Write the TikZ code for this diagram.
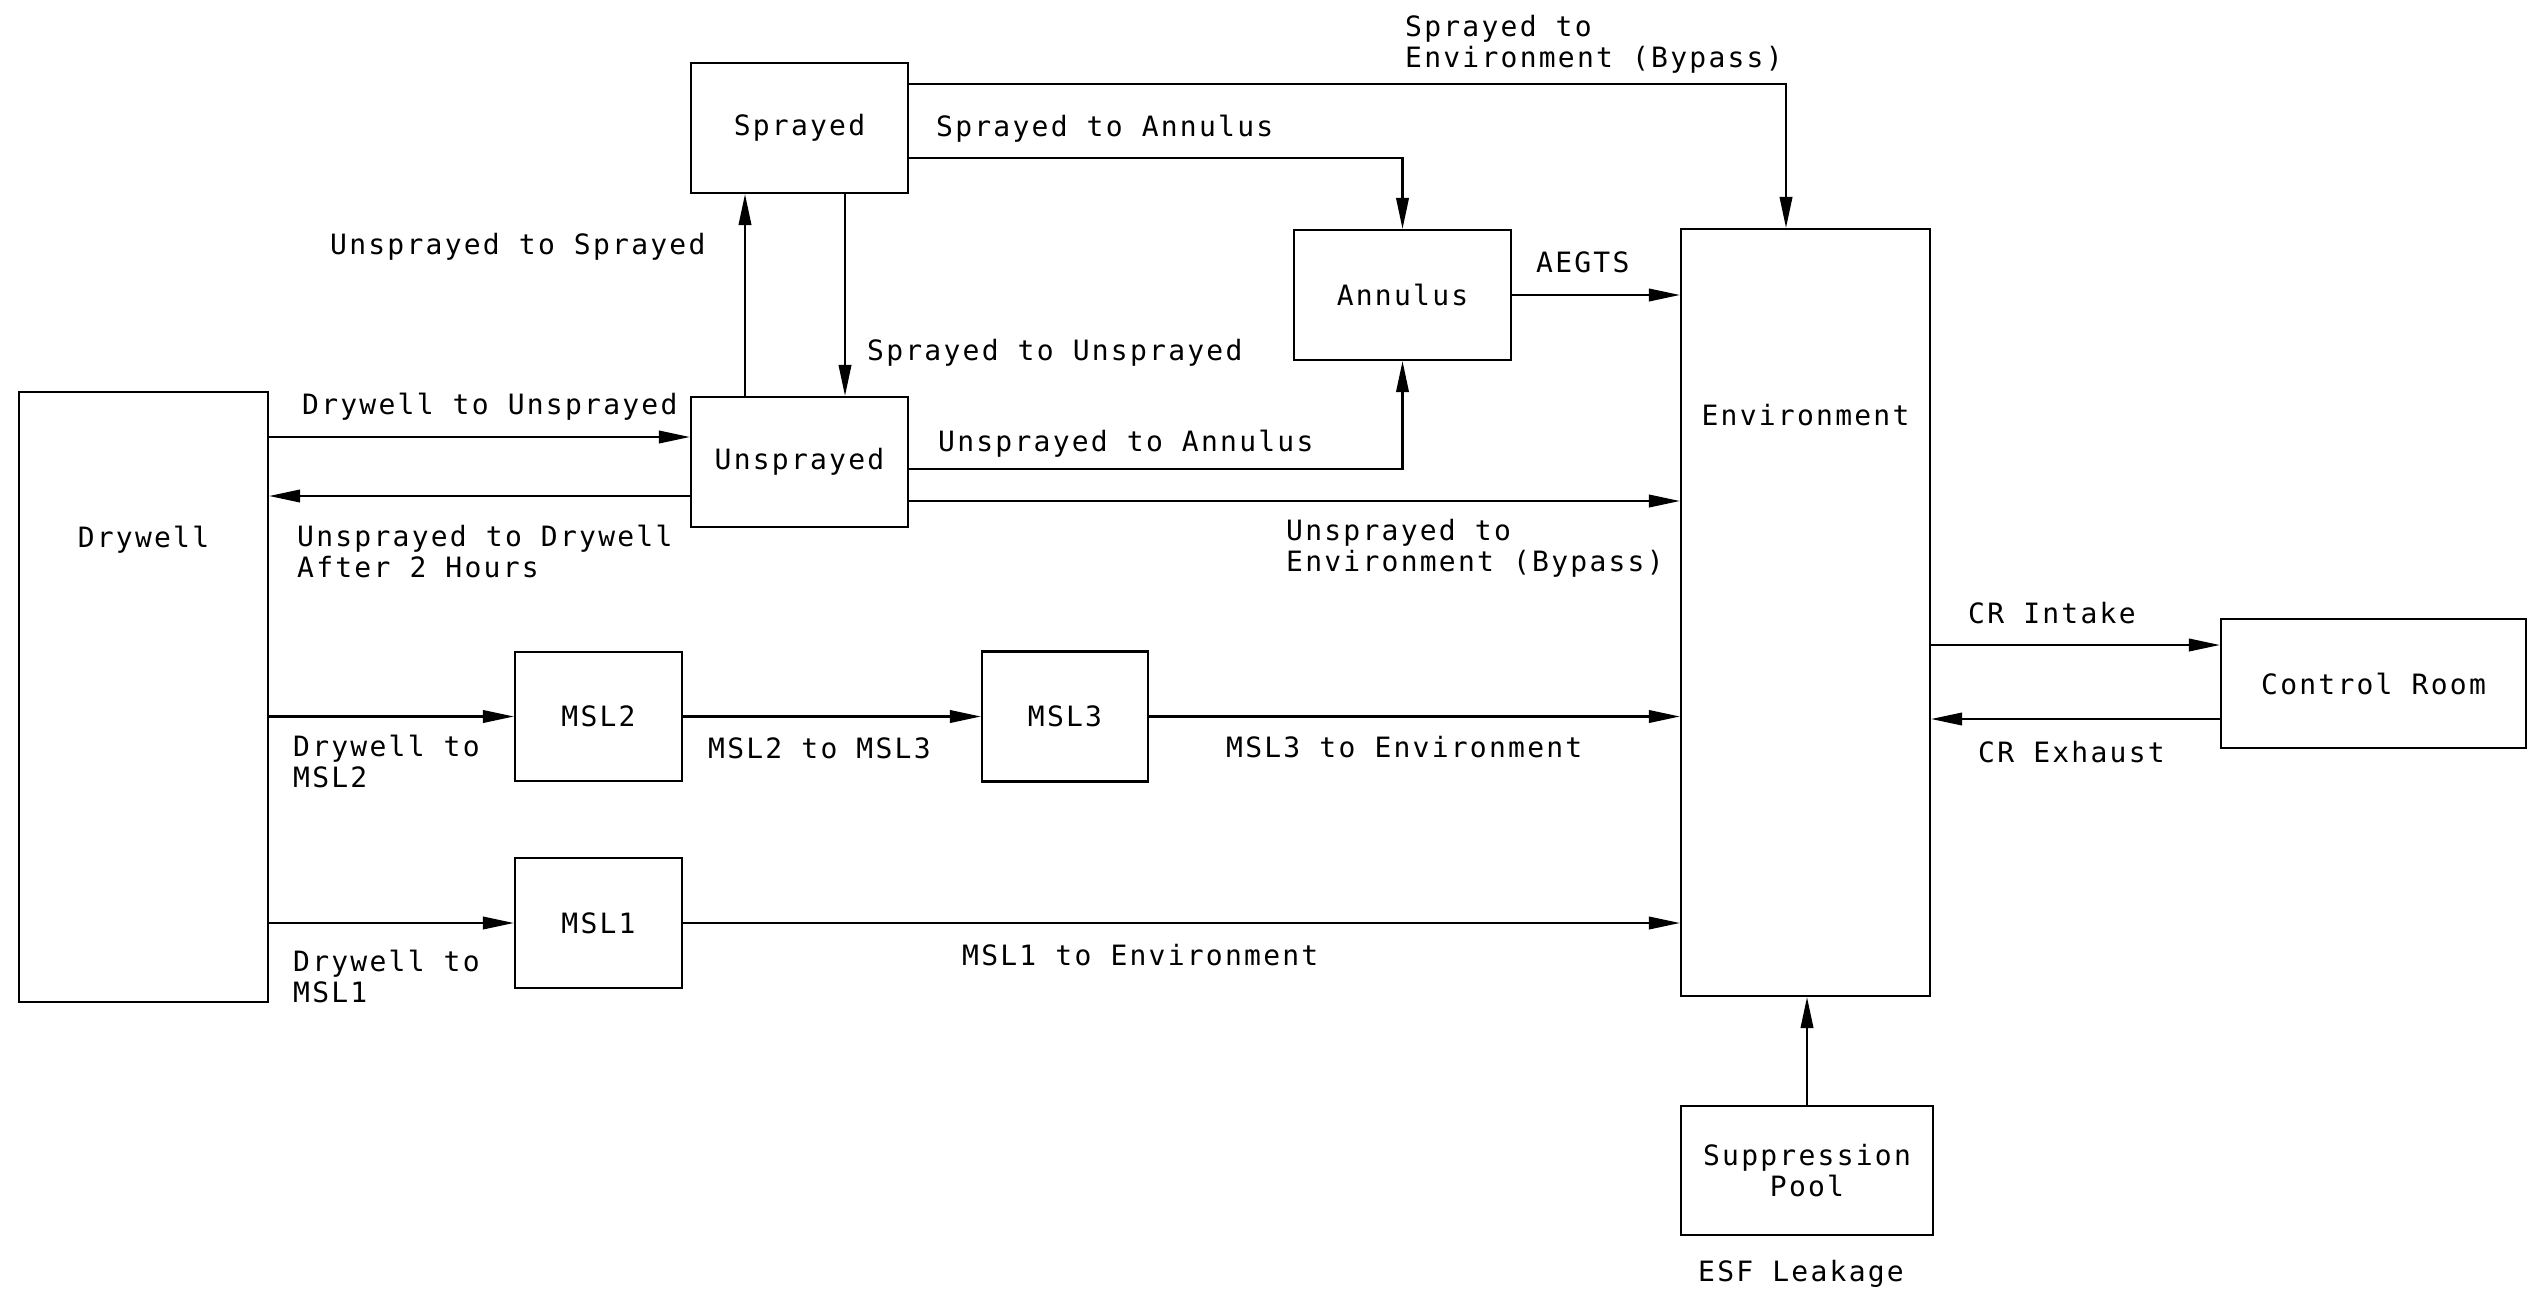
\documentclass[tikz,border=0pt]{standalone}
\usepackage{fontspec}
\newfontfamily\cadfont{DejaVu Sans Mono}[LetterSpace=8]
\usetikzlibrary{arrows.meta}
\tikzset{
  box/.style={draw, line width=2.2pt, inner sep=0pt, rectangle, font=\cadfont\fontsize{28}{31}\selectfont, align=center},
  lbl/.style={inner sep=0pt, anchor=base west, align=left, font=\cadfont\fontsize{28}{31}\selectfont},
  txt/.style={inner sep=0pt, anchor=base, font=\cadfont\fontsize{28}{31}\selectfont},
  arr/.style={line width=2.2pt, -{Triangle[length=31pt,width=12.5pt]}}
}
\begin{document}
\begin{tikzpicture}[x=1pt,y=-1pt]
\fill[white] (0,0) rectangle (2531,1290);
\useasboundingbox (0,0) rectangle (2531,1290);

% boxes
\node[box, minimum width=249pt, minimum height=610pt] (dw) at (143.5,697) {};
\node[txt] (dwT) at (143.5,547) {Drywell};
\node[box, minimum width=217pt, minimum height=130pt] (spr) at (799.5,128) {Sprayed};
\node[box, minimum width=217pt, minimum height=130pt] (unsp) at (799.5,462) {Unsprayed};
\node[box, minimum width=217pt, minimum height=130pt] (ann) at (1402.5,295) {Annulus};
\node[box, minimum width=249pt, minimum height=767pt] (env) at (1805.5,612.5) {};
\node[txt] (envT) at (1805.5,425) {Environment};
\node[box, minimum width=305pt, minimum height=129pt] (cr) at (2373.5,683.5) {Control Room};
\node[box, minimum width=252pt, minimum height=129pt] (sp) at (1807,1170.5) {Suppression\\Pool};
\node[box, minimum width=167pt, minimum height=129pt] (msl2) at (598.5,716.5) {MSL2};
\node[box, minimum width=166pt, minimum height=130pt] (msl3) at (1065,716.5) {MSL3};
\node[box, minimum width=167pt, minimum height=130pt] (msl1) at (598.5,923) {MSL1};

% helper coordinates
\coordinate (xa) at (745,0);
\coordinate (xb) at (845,0);
\coordinate (xc) at (1786,0);
\coordinate (y84) at (0,84);
\coordinate (y158) at (0,158);
\coordinate (y437) at (0,437);
\coordinate (y496) at (0,496);
\coordinate (y469) at (0,469);
\coordinate (y501) at (0,501);
\coordinate (y645) at (0,645);
\coordinate (y719) at (0,719);

% connectors
\draw[arr] (unsp.north -| xa) -- (spr.south -| xa);
\draw[arr] (spr.south -| xb) -- (unsp.north -| xb);
\draw[arr] (dw.east |- y437) -- (unsp.west |- y437);
\draw[arr] (unsp.west |- y496) -- (dw.east |- y496);
\draw[arr] (spr.east |- y84) -| (env.north -| xc);
\draw[arr] (spr.east |- y158) -| (ann.north);
\draw[arr] (unsp.east |- y469) -| (ann.south);
\draw[arr] (unsp.east |- y501) -- (env.west |- y501);
\draw[arr] (ann.east) -- (ann.east -| env.west);
\draw[arr] (dw.east |- msl2.west) -- (msl2.west);
\draw[arr] (msl2.east) -- (msl3.west);
\draw[arr] (msl3.east) -- (msl3.east -| env.west);
\draw[arr] (dw.east |- msl1.west) -- (msl1.west);
\draw[arr] (msl1.east) -- (msl1.east -| env.west);
\draw[arr] (env.east |- y645) -- (cr.west |- y645);
\draw[arr] (cr.west |- y719) -- (env.east |- y719);
\draw[arr] (sp.north) -- (sp.north |- env.south);

% labels (two-line labels: base = last line's baseline)
\node[lbl] (l1) at (1405,67) {Sprayed to\\Environment (Bypass)};
\node[lbl] (l2) at (936,136) {Sprayed to Annulus};
\node[lbl] (l3) at (330,254.5) {Unsprayed to Sprayed};
\node[lbl] (l4) at (867,360) {Sprayed to Unsprayed};
\node[lbl] (l5) at (1536,272) {AEGTS};
\node[lbl] (l6) at (302,414) {Drywell to Unsprayed};
\node[lbl] (l7) at (938,451.5) {Unsprayed to Annulus};
\node[lbl] (l8) at (297,577) {Unsprayed to Drywell\\After 2 Hours};
\node[lbl] (l9) at (1286,571) {Unsprayed to\\Environment (Bypass)};
\node[lbl] (l10) at (293,787) {Drywell to\\MSL2};
\node[lbl] (l11) at (708,758) {MSL2 to MSL3};
\node[lbl] (l12) at (1226,757) {MSL3 to Environment};
\node[lbl] (l13) at (293,1002) {Drywell to\\MSL1};
\node[lbl] (l14) at (962,965) {MSL1 to Environment};
\node[lbl] (l15) at (1968,623) {CR Intake};
\node[lbl] (l16) at (1978,762) {CR Exhaust};
\node[lbl] (l17) at (1698,1281) {ESF Leakage};
\end{tikzpicture}
\end{document}
